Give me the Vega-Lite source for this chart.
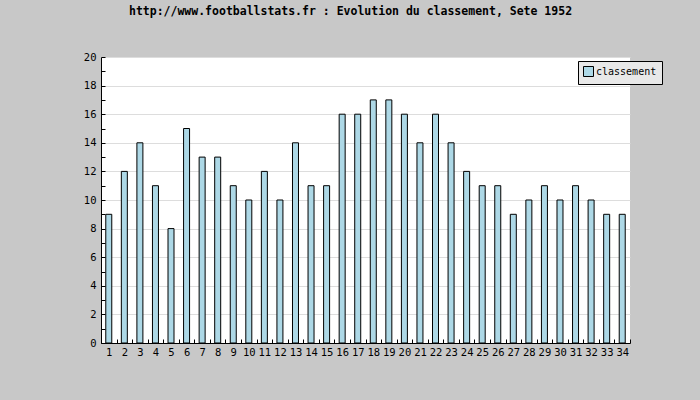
{
  "$schema": "https://vega.github.io/schema/vega-lite/v6.json",
  "autosize": {"type": "none"},
  "width": 529,
  "height": 286,
  "padding": {"left": 101, "top": 57, "right": 70, "bottom": 57},
  "background": "#c8c8c8",
  "title": {
    "text": "http://www.footballstats.fr : Evolution du classement, Sete 1952",
    "font": "DejaVu Sans Mono",
    "fontSize": 11.5,
    "fontWeight": "bold",
    "color": "black",
    "anchor": "middle",
    "frame": "group",
    "offset": 35,
    "dx": -15
  },
  "config": {
    "view": {"fill": "white", "stroke": null},
    "axis": {
      "labelFont": "DejaVu Sans Mono",
      "labelFontSize": 10.5,
      "labelColor": "black",
      "domainColor": "black",
      "tickColor": "black",
      "gridColor": "#dddddd",
      "title": null
    }
  },
  "data": {
    "values": [
      {"journee": 1, "classement": 9, "serie": "classement"},
      {"journee": 2, "classement": 12, "serie": "classement"},
      {"journee": 3, "classement": 14, "serie": "classement"},
      {"journee": 4, "classement": 11, "serie": "classement"},
      {"journee": 5, "classement": 8, "serie": "classement"},
      {"journee": 6, "classement": 15, "serie": "classement"},
      {"journee": 7, "classement": 13, "serie": "classement"},
      {"journee": 8, "classement": 13, "serie": "classement"},
      {"journee": 9, "classement": 11, "serie": "classement"},
      {"journee": 10, "classement": 10, "serie": "classement"},
      {"journee": 11, "classement": 12, "serie": "classement"},
      {"journee": 12, "classement": 10, "serie": "classement"},
      {"journee": 13, "classement": 14, "serie": "classement"},
      {"journee": 14, "classement": 11, "serie": "classement"},
      {"journee": 15, "classement": 11, "serie": "classement"},
      {"journee": 16, "classement": 16, "serie": "classement"},
      {"journee": 17, "classement": 16, "serie": "classement"},
      {"journee": 18, "classement": 17, "serie": "classement"},
      {"journee": 19, "classement": 17, "serie": "classement"},
      {"journee": 20, "classement": 16, "serie": "classement"},
      {"journee": 21, "classement": 14, "serie": "classement"},
      {"journee": 22, "classement": 16, "serie": "classement"},
      {"journee": 23, "classement": 14, "serie": "classement"},
      {"journee": 24, "classement": 12, "serie": "classement"},
      {"journee": 25, "classement": 11, "serie": "classement"},
      {"journee": 26, "classement": 11, "serie": "classement"},
      {"journee": 27, "classement": 9, "serie": "classement"},
      {"journee": 28, "classement": 10, "serie": "classement"},
      {"journee": 29, "classement": 11, "serie": "classement"},
      {"journee": 30, "classement": 10, "serie": "classement"},
      {"journee": 31, "classement": 11, "serie": "classement"},
      {"journee": 32, "classement": 10, "serie": "classement"},
      {"journee": 33, "classement": 9, "serie": "classement"},
      {"journee": 34, "classement": 9, "serie": "classement"}
    ]
  },
  "mark": {"type": "bar", "size": 6, "stroke": "black", "strokeWidth": 1},
  "encoding": {
    "x": {
      "field": "journee",
      "type": "ordinal",
      "scale": {"paddingInner": 0, "paddingOuter": 0},
      "axis": {
        "labelAngle": 0,
        "tickBand": "extent",
        "tickSize": -4,
        "labelPadding": 8,
        "grid": false
      }
    },
    "y": {
      "field": "classement",
      "type": "quantitative",
      "scale": {"domain": [0, 20], "nice": false},
      "axis": {
        "values": [0,1,2,3,4,5,6,7,8,9,10,11,12,13,14,15,16,17,18,19,20],
        "labelExpr": "datum.value % 2 == 0 ? datum.label : ''",
        "gridOpacity": {"condition": {"test": "datum.value % 2 == 1 || datum.value == 0", "value": 0}, "value": 1},
        "tickSize": -4,
        "labelPadding": 9,
        "grid": true
      }
    },
    "color": {
      "field": "serie",
      "type": "nominal",
      "scale": {"range": ["#add8e6"]},
      "legend": {
        "title": null,
        "orient": "none",
        "legendX": 477,
        "legendY": 4,
        "fillColor": "#e8e8e8",
        "strokeColor": "black",
        "padding": 5,
        "symbolType": "square",
        "symbolSize": 100,
        "symbolStrokeColor": "black",
        "symbolStrokeWidth": 1,
        "symbolOpacity": 1,
        "labelFont": "DejaVu Sans Mono",
        "labelFontSize": 10,
        "labelColor": "black",
        "labelOffset": 2
      }
    }
  }
}
